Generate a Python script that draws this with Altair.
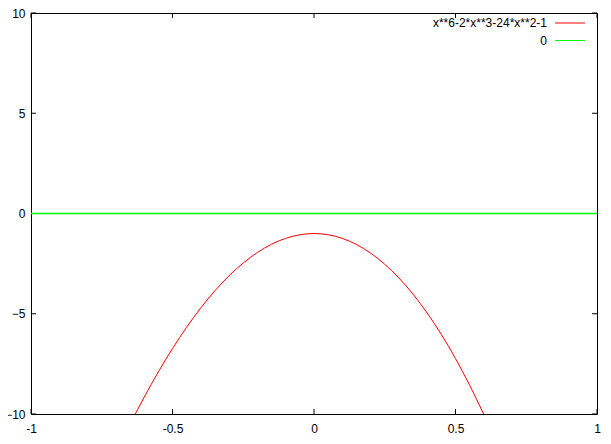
import altair as alt
import pandas as pd

# curve samples
curve_x = [-0.70, -0.65, -0.60, -0.55, -0.50, -0.45, -0.40, -0.35, -0.30, -0.25,
           -0.20, -0.15, -0.10, -0.05, 0.00, 0.05, 0.10, 0.15, 0.20, 0.25,
           0.30, 0.35, 0.40, 0.45, 0.50, 0.55, 0.60, 0.65]
curve_y = [-11.956, -10.515, -9.161, -7.900, -6.734, -5.669, -4.708, -3.852, -3.105, -2.468,
           -1.944, -1.533, -1.238, -1.060, -1.000, -1.060, -1.242, -1.547, -1.976, -2.531,
           -3.213, -4.024, -4.964, -6.034, -7.234, -8.565, -10.025, -11.614]
zero_x = [-1.0, 1.0]
zero_y = [0.0, 0.0]
x_ticks = [-1, -0.5, 0, 0.5, 1]
y_ticks = [-10, -5, 0, 5, 10]
legend_labels = ["x**6-2*x**3-24*x**2-1", "0"]
legend_colors = ["#ff0000", "#00ff00"]

W, H = 566, 401
FONT = "Liberation Sans"
TL = 5

xs = alt.Scale(domain=[-1, 1], nice=False, zero=False)
ys = alt.Scale(domain=[-10, 10], nice=False, zero=False)

curve_df = pd.DataFrame({"x": curve_x, "y": curve_y})
zero_df = pd.DataFrame({"x": zero_x, "y": zero_y})
xt_df = pd.DataFrame({"t": x_ticks})
yt_df = pd.DataFrame({"t": y_ticks})

xaxis = alt.Axis(values=x_ticks, title=None, domain=False, ticks=False, grid=False,
                 labelFont=FONT, labelFontSize=12, labelColor="black", labelPadding=9,
                 labelFlush=False, labelBaseline="top",
                 labelExpr="datum.value == 0 ? '0' : datum.value")
yaxis = alt.Axis(values=y_ticks, title=None, domain=False, ticks=False, grid=False,
                 labelFont=FONT, labelFontSize=12, labelColor="black", labelPadding=6,
                 labelFlush=False)

curve = alt.Chart(curve_df).mark_line(stroke=legend_colors[0], strokeWidth=1, clip=True,
                                      interpolate="monotone").encode(
    x=alt.X("x:Q", scale=xs, axis=xaxis),
    y=alt.Y("y:Q", scale=ys, axis=yaxis),
)
zero_line = alt.Chart(zero_df).mark_line(stroke=legend_colors[1], strokeWidth=1.3,
                                         strokeOpacity=1).encode(
    x=alt.X("x:Q", scale=xs),
    y=alt.Y("y:Q", scale=ys),
)

tick_layers = []
for y0, y1 in [(H, H - TL), (0, TL)]:
    tick_layers.append(alt.Chart(xt_df).mark_rule(color="black", strokeWidth=1).encode(
        x=alt.X("t:Q", scale=xs), y=alt.value(y0), y2=alt.value(y1)))
for x0, x1 in [(0, TL), (W, W - TL)]:
    tick_layers.append(alt.Chart(yt_df).mark_rule(color="black", strokeWidth=1).encode(
        y=alt.Y("t:Q", scale=ys), x=alt.value(x0), x2=alt.value(x1)))

one = pd.DataFrame({"a": [0]})
legend_layers = []
for i, (lab, col) in enumerate(zip(legend_labels, legend_colors)):
    yy = 10 + i * 17.5
    legend_layers.append(alt.Chart(one).mark_text(text=lab, align="right", baseline="middle",
                                                  font=FONT, fontSize=12, color="black").encode(
        x=alt.value(516), y=alt.value(yy)))
    legend_layers.append(alt.Chart(one).mark_rule(color=col, strokeWidth=1).encode(
        x=alt.value(524), x2=alt.value(554), y=alt.value(yy)))

chart = alt.layer(curve, *tick_layers, *legend_layers, zero_line).properties(
    width=W, height=H,
    autosize=alt.AutoSizeParams(type="none"),
    padding={"left": 23, "top": 5, "right": 6, "bottom": 22},
    background="white",
).configure_view(stroke="black", strokeWidth=1)

chart.save("out.html", embed_options={"renderer": "svg", "actions": False})
